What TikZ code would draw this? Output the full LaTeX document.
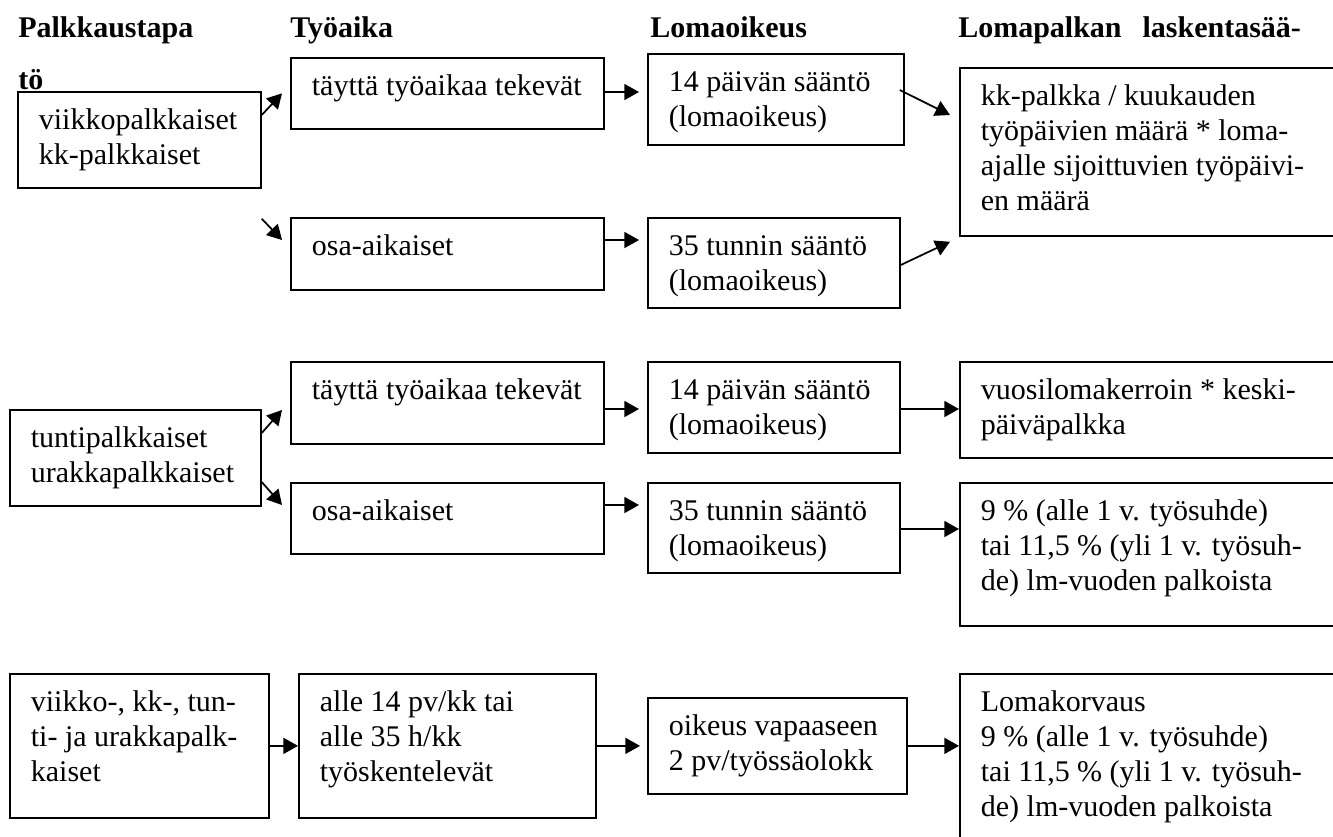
\documentclass[tikz,border=0pt]{standalone}
\usepackage{fontspec}
\setmainfont{Liberation Serif}
\usetikzlibrary{calc,arrows.meta}
\newlength\px
\setlength\px{0.75pt}
% fixed-size cell, text at top left
\newcommand\cell[3]{\parbox[c][#2\px][t]{#1\px}{\raggedright\leftskip=21\px\vspace*{13.5\px}\strut#3}}

\begin{document}
\begin{tikzpicture}[x=0.75pt, y=-0.75pt,
    font=\fontsize{22.5pt}{26.25pt}\selectfont,
    box/.style={draw, line width=1.3pt, inner sep=0pt, anchor=north west},
    head/.style={font=\fontsize{22.5pt}{26.25pt}\selectfont\bfseries, anchor=base west, inner sep=0pt},
    arr/.style={-{Triangle[length=11pt,width=12pt]}, line width=1.3pt}]

\useasboundingbox (0,0) rectangle (1333,836);

\clip (0,0) rectangle (1333,836);

% Otsikot

\node[head] (h1) at (18,37) {Palkkaustapa};

\node[head] (h2) at (290,37) {Työaika};

\node[head] (h3) at (650,37) {Lomaoikeus};

\node[head] (h4) at (958,37) {Lomapalkan\hspace{0.7em}laskentasää-};

\node[head] (h4b) at (18,89) {tö};

% Rivi 1

\node[box] (a1) at (17,91) {\cell{243}{96}{viikkopalkkaiset\\kk-palkkaiset}};

\node[box] (b1) at (290,57) {\cell{313}{71}{täyttä työaikaa tekevät}};

\node[box] (b2) at (290,217) {\cell{313}{72}{osa-aikaiset}};

\node[box] (c1) at (647,53) {\cell{256}{91}{14 päivän sääntö\\(lomaoikeus)}};

\node[box] (c2) at (647,217) {\cell{252}{90}{35 tunnin sääntö\\(lomaoikeus)}};

\node[box] (d1) at (959,67) {\cell{420}{168}{kk-palkka / kuukauden\\työpäivien määrä * loma-\\ajalle sijoittuvien työpäivi-\\en määrä}};

% Rivi 2

\node[box] (a2) at (9,409) {\cell{251}{96}{tuntipalkkaiset\\urakkapalkkaiset}};

\node[box] (b3) at (290,361) {\cell{313}{82}{täyttä työaikaa tekevät}};

\node[box] (b4) at (290,482) {\cell{313}{71}{osa-aikaiset}};

\node[box] (c3) at (647,361) {\cell{252}{91}{14 päivän sääntö\\(lomaoikeus)}};

\node[box] (c4) at (647,482) {\cell{252}{90}{35 tunnin sääntö\\(lomaoikeus)}};

\node[box] (d3) at (959,361) {\cell{420}{96}{vuosilomakerroin * keski-\\päiväpalkka}};

\node[box] (d4) at (959,482) {\cell{420}{143}{9 \% (alle 1 v. työsuhde)\\tai 11,5 \% (yli 1 v. työsuh-\\de) lm-vuoden palkoista}};

% Rivi 3

\node[box] (e1) at (9,673) {\cell{259}{144}{viikko-, kk-, tun-\\ti- ja urakkapalk-\\kaiset}};

\node[box] (e2) at (298,673) {\cell{297}{144}{alle 14 pv/kk tai\\alle 35 h/kk\\työskentelevät}};

\node[box] (e3) at (647,697) {\cell{259}{96}{oikeus vapaaseen\\2 pv/työssäolokk}};

\node[box] (e4) at (959,673) {\cell{420}{200}{Lomakorvaus\\9 \% (alle 1 v. työsuhde)\\tai 11,5 \% (yli 1 v. työsuh-\\de) lm-vuoden palkoista}};

% Nuolet

\draw[arr] ($(a1.north east)+(0,24)$) -- ($(b1.west)+(-8,0)$);

\draw[arr] ($(a1.south east)+(0,30)$) -- ($(b2.north west)+(-8,23)$);

\draw[arr] ($(b1.north east)+(0,35)$) -- ($(c1.north west)+(-8,39)$);

\draw[arr] ($(b2.north east)+(0,23)$) -- ($(c2.north west)+(-8,23)$);

\draw[arr] ($(c1.north east)+(-5,37)$) -- ($(d1.north west)+(-9,48)$);

\draw[arr] ($(c2.north east)+(0,48)$) -- ($(d1.south west)+(-9,5)$);

\draw[arr] ($(a2.north east)+(0,24)$) -- ($(b3.north west)+(-8,49)$);

\draw[arr] ($(a2.north east)+(0,73)$) -- ($(b4.north west)+(-8,23)$);

\draw[arr] ($(b3.north east)+(0,48)$) -- ($(c3.north west)+(-8,48)$);

\draw[arr] ($(b4.north east)+(0,23)$) -- ($(c4.north west)+(-8,23)$);

\draw[arr] ($(c3.north east)+(0,48)$) -- ($(d3.north west)+(0,48)$);

\draw[arr] ($(c4.north east)+(0,47)$) -- ($(d4.north west)+(0,47)$);

\draw[arr] (e1.east) -- (e2.west);

\draw[arr] (e2.east) -- ($(e3.west)+(-7,0)$);

\draw[arr] (e3.east) -- (e3.east -| e4.west);

\end{tikzpicture}
\end{document}
